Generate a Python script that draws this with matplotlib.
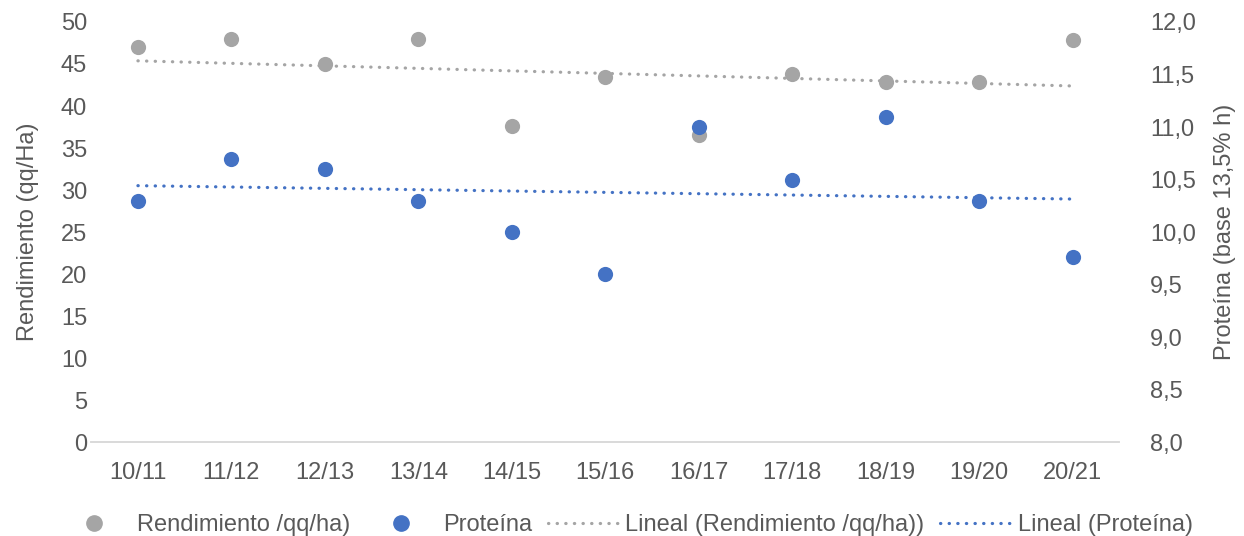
import numpy as np
import matplotlib.pyplot as plt
from matplotlib.lines import Line2D
from matplotlib.ticker import FuncFormatter

plt.rcParams['font.family'] = ['Liberation Sans', 'DejaVu Sans']

campanias = ['10/11', '11/12', '12/13', '13/14', '14/15', '15/16',
             '16/17', '17/18', '18/19', '19/20', '20/21']
rendimiento = [47.0, 48.0, 45.0, 48.0, 37.6, 43.4, 36.5, 43.8, 42.8, 42.8, 47.8]
proteina = [10.3, 10.7, 10.6, 10.3, 10.0, 9.6, 11.0, 10.5, 11.1, 10.3, 9.76]

gris = '#A5A5A5'
azul = '#4472C4'
texto = '#595959'
fs = 17

x = np.arange(len(campanias))

# tendencias lineales (ajuste por mínimos cuadrados)
tend_r = np.polyval(np.polyfit(x, rendimiento, 1), x)
tend_p = np.polyval(np.polyfit(x, proteina, 1), x)

fig = plt.figure(figsize=(12.44, 5.36), dpi=100)
ax = fig.add_axes([0.0733, 0.175, 0.8265, 0.784])
ax2 = ax.twinx()

punteado = (0, (0.1, 2.6))
ax.plot(x, tend_r, color=gris, lw=2.3, linestyle=punteado,
        dash_capstyle='round', zorder=2)
ax.scatter(x, rendimiento, s=120, color=gris, zorder=3, linewidths=0)
ax2.plot(x, tend_p, color=azul, lw=2.3, linestyle=punteado,
         dash_capstyle='round', zorder=2)
ax2.scatter(x, proteina, s=120, color=azul, zorder=3, linewidths=0)

ax.set_xlim(-0.5, len(campanias) - 0.5)
ax.set_ylim(0, 50)
ax.set_yticks(range(0, 51, 5))
ax2.set_ylim(8, 12)
ax2.set_yticks(np.arange(8, 12.01, 0.5))
ax2.yaxis.set_major_formatter(FuncFormatter(lambda v, p: f'{v:.1f}'.replace('.', ',')))
ax.set_xticks(x)
ax.set_xticklabels(campanias)

for a in (ax, ax2):
    for s in ('top', 'left', 'right'):
        a.spines[s].set_visible(False)
    a.spines['bottom'].set_color('#D9D9D9')
    a.spines['bottom'].set_linewidth(1.2)
    a.tick_params(length=0, labelsize=fs, labelcolor=texto, pad=3)
ax.tick_params(axis='x', pad=14)
ax2.tick_params(axis='y', pad=22)

ax.set_ylabel('Rendimiento (qq/Ha)', fontsize=fs, color=texto, labelpad=16)
ax2.set_ylabel('Proteína (base 13,5% h)', fontsize=fs, color=texto, labelpad=13)

handles = [
    Line2D([], [], marker='o', color=gris, linestyle='none', markersize=11),
    Line2D([], [], marker='o', color=azul, linestyle='none', markersize=11),
    Line2D([], [], color=gris, lw=2.3, linestyle=punteado, dash_capstyle='round'),
    Line2D([], [], color=azul, lw=2.3, linestyle=punteado, dash_capstyle='round'),
]
etiquetas = ['Rendimiento /qq/ha)', 'Proteína',
             'Lineal (Rendimiento /qq/ha))', 'Lineal (Proteína)']
fig.legend(handles, etiquetas, loc='lower center', ncol=4, frameon=False,
           fontsize=fs, labelcolor=texto, bbox_to_anchor=(0.503, -0.04),
           handlelength=3.0, columnspacing=0.65, handletextpad=0.3)

fig.savefig('out.png', dpi=100)
